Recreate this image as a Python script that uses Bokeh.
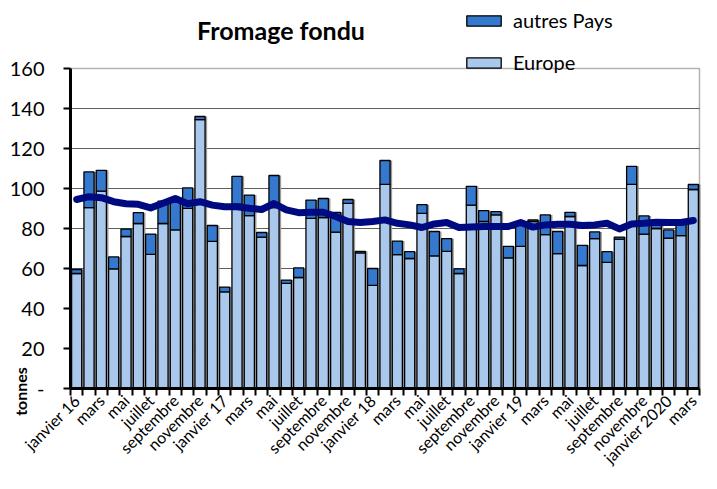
import math
from bokeh.plotting import figure
from bokeh.models import (ColumnDataSource, FixedTicker, Range1d, Label, Legend, LegendItem,
                          BoxAnnotation)
from bokeh.embed import file_html
from bokeh.resources import INLINE

# ---- data (tonnes), janvier 2016 -> mars 2020 ----
month_names = ["janvier", "février", "mars", "avril", "mai", "juin", "juillet",
               "août", "septembre", "octobre", "novembre", "décembre"]
year_labels = {2016: "16", 2017: "17", 2018: "18", 2019: "19", 2020: "2020"}

europe = [57.5, 90.4, 98.7, 59.8, 76.0, 82.5, 67.1, 82.5, 79.3, 90.1, 134.4, 73.6,
          48.3, 92.2, 86.4, 75.7, 90.5, 52.6, 55.5, 85.1, 85.5, 78.2, 92.6, 67.8,
          51.6, 102.1, 66.9, 65.0, 87.6, 66.3, 68.6, 57.5, 91.7, 83.5, 86.8, 65.3,
          71.1, 83.5, 76.9, 67.4, 86.0, 61.5, 74.9, 63.1, 74.7, 102.1, 77.2, 80.0,
          75.2, 76.4, 99.5]
autres = [2.0, 17.9, 10.4, 6.0, 3.7, 5.4, 10.1, 11.2, 15.7, 10.2, 1.6, 7.9,
          2.4, 13.9, 10.3, 2.3, 16.0, 1.6, 4.8, 9.1, 9.5, 9.8, 1.9, 0.8,
          8.4, 11.9, 6.8, 3.4, 4.3, 12.2, 6.3, 2.3, 9.4, 5.4, 1.6, 5.8,
          10.9, 0.8, 9.9, 11.1, 2.1, 10.1, 3.4, 5.3, 1.0, 9.0, 9.1, 2.0,
          4.1, 5.6, 2.5]
moyenne = [94.5, 95.9, 95.4, 93.4, 92.4, 92.1, 90.3, 92.6, 95.0, 92.4, 93.4, 91.7,
           90.9, 90.9, 90.1, 89.5, 92.5, 89.3, 87.9, 88.1, 88.1, 86.0, 83.5, 83.0,
           83.5, 84.3, 82.6, 81.8, 80.5, 82.3, 83.0, 80.5, 80.8, 81.0, 81.0, 81.0,
           83.0, 80.7, 81.8, 82.1, 82.1, 81.5, 81.8, 82.6, 79.8, 82.3, 82.6, 83.1,
           83.0, 83.0, 84.0]
y_ticks = [0, 20, 40, 60, 80, 100, 120, 140, 160]

n = len(europe)
xs = list(range(n))
labels = []
for i in range(n):
    yr = 2016 + i // 12
    m = i % 12
    labels.append(month_names[m] + (" " + year_labels[yr] if m == 0 else ""))
tick_pos = [i for i in xs if i % 2 == 0]
totals = [e + a for e, a in zip(europe, autres)]

# ---- layout constants (pixels) ----
W, H = 701, 473
PX_LEFT, PX_RIGHT = 70, 699        # pixel of plot-area left / right edge
PX_Y0, PX_YTOP = 388, 68           # pixel of y=0 / y=160
X_LO, X_HI = -0.5, n - 0.5
Y_LO, Y_HI = y_ticks[0], y_ticks[-1]
ux = (PX_RIGHT - PX_LEFT) / (X_HI - X_LO)
uy = (PX_Y0 - PX_YTOP) / (Y_HI - Y_LO)

FONT = "Lato"
C_EU = "#A9C8EC"
C_AU = "#3579CF"
C_LINE = "#000A80"

src = ColumnDataSource(dict(x=xs, europe=europe, autres=autres, total=totals,
                            xs_shadow=[x + 0.17 for x in xs], moy=moyenne))

p = figure(width=W, height=H,
           x_range=Range1d(X_LO - PX_LEFT / ux, X_HI + (W - PX_RIGHT) / ux),
           y_range=Range1d(Y_LO - (H - PX_Y0) / uy, Y_HI + PX_YTOP / uy),
           output_backend="svg", toolbar_location=None, title=None, min_border=0)
p.min_border_left = p.min_border_right = p.min_border_top = p.min_border_bottom = 0
p.background_fill_color = "white"
p.border_fill_color = "white"
p.outline_line_color = None
p.xgrid.visible = False
p.ygrid.visible = False

# horizontal grid lines limited to the plot area
gy = y_ticks[1:-1]
p.segment(x0=[X_LO] * len(gy), x1=[X_HI] * len(gy), y0=gy, y1=gy,
          line_color="#5e5e5e", line_width=1.2)

# bar shadows, stacked bars, moving average
p.vbar(x="xs_shadow", top="total", bottom=0, width=0.82, source=src,
       fill_color="#9a9a9a", line_color=None)
stack = p.vbar_stack(["europe", "autres"], x="x", width=0.82, source=src,
                     fill_color=[C_EU, C_AU], line_color="black", line_width=1.3)
p.line(x="x", y="moy", source=src, line_color=C_LINE, line_width=7,
       line_join="round", line_cap="round")

# plot-area border
p.add_layout(BoxAnnotation(left=X_LO, right=X_HI, bottom=Y_LO, top=Y_HI,
                           fill_alpha=0, line_color="black", line_width=1.5))

# y axis
ya = p.yaxis[0]
ya.fixed_location = X_LO
ya.bounds = (Y_LO, Y_HI)
ya.ticker = FixedTicker(ticks=y_ticks)
ya.major_label_overrides = {0: "-"}
ya.axis_line_width = 3
ya.axis_line_color = "black"
ya.major_tick_out = 7
ya.major_tick_in = 0
ya.major_tick_line_width = 2
ya.minor_tick_line_color = None
ya.major_label_standoff = 19
ya.major_label_text_font = FONT
ya.major_label_text_font_size = "20px"
ya.major_label_text_color = "black"

# x axis
xa = p.xaxis[0]
xa.fixed_location = Y_LO
xa.bounds = (X_LO, X_HI)
xa.ticker = FixedTicker(ticks=tick_pos, minor_ticks=[i - 0.5 for i in range(n + 1)])
xa.major_label_overrides = {i: labels[i] for i in tick_pos}
xa.major_label_orientation = math.pi / 4
xa.major_tick_line_color = None
xa.major_tick_out = 7
xa.major_tick_in = 0
xa.minor_tick_line_color = "black"
xa.minor_tick_line_width = 2
xa.minor_tick_out = 7
xa.minor_tick_in = 0
xa.axis_line_width = 3
xa.axis_line_color = "black"
xa.major_label_standoff = 2
xa.major_label_text_font = FONT
xa.major_label_text_font_size = "16px"
xa.major_label_text_color = "black"

# title & y label
p.add_layout(Label(x=280.5, y=H - 29, x_units="screen", y_units="screen", text="Fromage fondu",
                   text_font=FONT, text_font_style="bold", text_font_size="25px",
                   text_align="center", text_baseline="alphabetic", text_color="black"))
p.add_layout(Label(x=20, y=H - 391, x_units="screen", y_units="screen", text="tonnes",
                   angle=math.pi / 2, text_font=FONT, text_font_style="bold",
                   text_font_size="16px", text_align="center", text_baseline="middle",
                   text_color="black"))

legend = Legend(items=[LegendItem(label="autres Pays", renderers=[stack[1]]),
                       LegendItem(label="Europe", renderers=[stack[0]])],
                location=(462, H - 8 - 66), orientation="vertical",
                glyph_width=43, glyph_height=13, label_standoff=8, spacing=18,
                padding=0, margin=0, border_line_color=None, background_fill_alpha=0,
                label_text_font=FONT, label_text_font_size="20px", label_text_color="black",
                label_text_baseline="alphabetic")
p.add_layout(legend)

open("out.html", "w").write(file_html(p, INLINE))
